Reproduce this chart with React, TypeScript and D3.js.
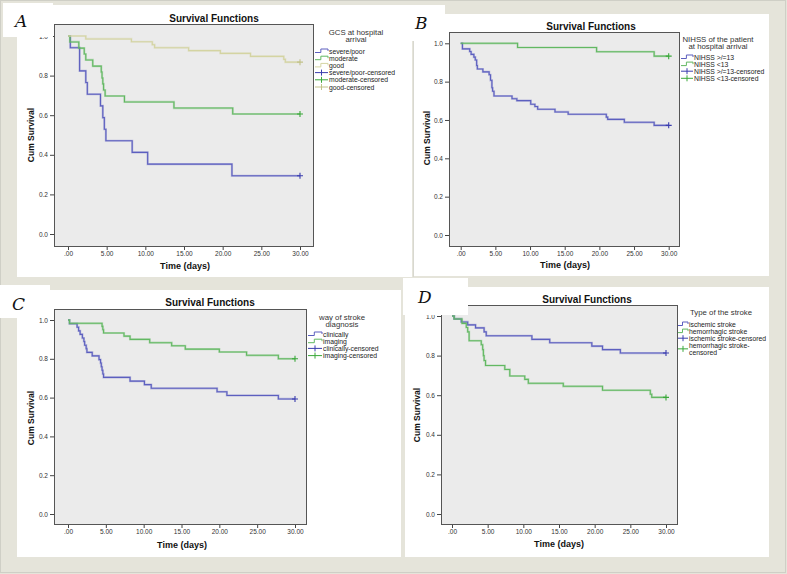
import React, { useRef, useEffect } from "react";
import * as d3 from "d3";

type Pt = [number, number];

const timeTicks = [0, 5, 10, 15, 20, 25, 30];
const survivalTicks = [0, 0.2, 0.4, 0.6, 0.8, 1.0];
const endTime = 30;

// A: GCS at hospital arrival
const gcsLabels = ["severe/poor", "moderate", "good"];
const gcsSevere: Pt[] = [[0, 1], [0.3, 0.941], [1.5, 0.824], [2.3, 0.765], [2.5, 0.706], [4.2, 0.647], [4.5, 0.588], [4.7, 0.529], [4.9, 0.471], [8.3, 0.412], [10.3, 0.353], [21.2, 0.294]];
const gcsModerate: Pt[] = [[0, 1], [0.25, 0.97], [1.4, 0.939], [2.1, 0.909], [2.3, 0.879], [3.2, 0.848], [4.3, 0.818], [4.4, 0.788], [4.5, 0.758], [4.6, 0.727], [4.8, 0.697], [7.3, 0.667], [13.7, 0.636], [21.3, 0.606]];
const gcsGood: Pt[] = [[0, 1], [2.3, 0.985], [8.2, 0.971], [10.9, 0.956], [11.2, 0.941], [15.6, 0.926], [19.7, 0.912], [23.6, 0.897], [27.9, 0.882], [28.1, 0.868]];

// B: NIHSS
const nihssLabels = ["NIHSS >/=13", "NIHSS <13"];
const nihssHigh: Pt[] = [[0, 1], [0.25, 0.971], [1.3, 0.957], [1.5, 0.942], [1.9, 0.928], [2.1, 0.913], [2.3, 0.884], [2.4, 0.866], [3.2, 0.851], [4.1, 0.836], [4.3, 0.807], [4.5, 0.768], [4.6, 0.75], [4.8, 0.725], [7.4, 0.711], [8.1, 0.701], [10.1, 0.682], [10.7, 0.67], [11.1, 0.656], [13.6, 0.642], [15.5, 0.63], [21.0, 0.615], [21.2, 0.603], [23.6, 0.588], [27.9, 0.572]];
const nihssLow: Pt[] = [[0, 1], [8.2, 0.978], [19.6, 0.956], [27.9, 0.933]];

// C: way of stroke diagnosis
const diagLabels = ["clinically", "imaging"];
const diagClinical: Pt[] = [[0, 1], [0.2, 0.981], [1.2, 0.963], [1.4, 0.944], [1.6, 0.926], [1.9, 0.907], [2.1, 0.889], [2.2, 0.87], [2.4, 0.852], [2.5, 0.833], [3.2, 0.815], [4.1, 0.796], [4.3, 0.778], [4.4, 0.759], [4.5, 0.741], [4.6, 0.722], [4.7, 0.704], [8.2, 0.685], [10.1, 0.667], [11.0, 0.648], [19.7, 0.63], [21.0, 0.611], [27.8, 0.593]];
const diagImaging: Pt[] = [[0, 1], [0.2, 0.983], [4.5, 0.967], [4.6, 0.95], [4.7, 0.933], [7.4, 0.917], [8.2, 0.9], [10.8, 0.883], [13.7, 0.867], [15.5, 0.85], [20.0, 0.835], [23.6, 0.818], [27.8, 0.8]];

// D: type of the stroke
const strokeLabels = ["ischemic stroke", "hemorrhagic stroke"];
const strokeIschemic: Pt[] = [[0, 1], [0.3, 0.985], [1.3, 0.97], [2.2, 0.955], [3.3, 0.94], [4.5, 0.92], [4.8, 0.9], [11.2, 0.882], [13.7, 0.865], [19.6, 0.848], [21.1, 0.83], [23.6, 0.813]];
const strokeHemorrhagic: Pt[] = [[0, 1], [0.3, 0.985], [1.4, 0.963], [2.0, 0.942], [2.2, 0.92], [2.4, 0.875], [4.1, 0.855], [4.3, 0.83], [4.4, 0.8], [4.5, 0.775], [4.7, 0.75], [7.4, 0.73], [8.1, 0.697], [10.2, 0.68], [10.7, 0.66], [15.6, 0.645], [21.1, 0.625], [27.8, 0.605], [28.0, 0.589]];

const blue = "#5c5fbf";
const blueMark = "#3a3dae";
const green = "#62b862";
const greenMark = "#3aa83a";
const khaki = "#d4d4a2";
const khakiMark = "#c2c28a";

const panels = [
  {
    letter: "A", letterAt: [15, 27], tag: [3, 3, 50, 34],
    frame: { x0: 54, x1: 313, y0: 24, y1: 246 }, xr: [68, 300], yr: [234, 36],
    title: [214, 18], xlab: [185, 266], ylab: [31, 135],
    legend: { head: ["GCS at hospital", "arrival"], hx: 356, hy: 32, x0: 315, x1: 328, y0: 51, dy: 7.2 },
    labels: gcsLabels, data: [gcsSevere, gcsModerate, gcsGood],
    colors: [blue, green, khaki], marks: [blueMark, greenMark, khakiMark],
  },
  {
    letter: "B", letterAt: [415, 29], tag: [400, 5, 45, 36],
    frame: { x0: 449, x1: 679, y0: 32, y1: 246 }, xr: [460.7, 668.7], yr: [235, 43.3],
    title: [591, 26], xlab: [565, 265], ylab: [427, 138],
    legend: { head: ["NIHSS of the patient", "at hospital arrival"], hx: 718, hy: 39, x0: 681, x1: 693, y0: 57, dy: 7.1 },
    labels: nihssLabels, data: [nihssHigh, nihssLow],
    colors: [blue, green], marks: [blueMark, greenMark],
  },
  {
    letter: "C", letterAt: [12, 310], tag: [0, 285, 50, 33],
    frame: { x0: 54, x1: 306, y0: 309, y1: 524 }, xr: [68, 295], yr: [514, 320],
    title: [210, 302], xlab: [182, 545], ylab: [31, 418],
    legend: { head: ["way of stroke", "diagnosis"], hx: 342, hy: 317, x0: 308, x1: 322, y0: 334, dy: 7.2 },
    labels: diagLabels, data: [diagClinical, diagImaging],
    colors: [blue, green], marks: [blueMark, greenMark],
  },
  {
    letter: "D", letterAt: [418, 303], tag: [403, 278, 65, 37],
    frame: { x0: 441, x1: 677, y0: 305, y1: 524 }, xr: [452, 666], yr: [514, 316],
    title: [587, 299], xlab: [559, 544], ylab: [417, 415],
    legend: { head: ["Type of the stroke"], hx: 721, hy: 312, x0: 678, x1: 688, y0: 324, dy: 7.1 },
    labels: strokeLabels, data: [strokeIschemic, strokeHemorrhagic],
    colors: [blue, green], marks: [blueMark, greenMark],
  },
];

const font = "'Liberation Sans', Arial, sans-serif";

export default function App() {
  const ref = useRef<SVGSVGElement>(null);

  useEffect(() => {
    const svg = d3.select(ref.current);
    svg.selectAll("*").remove();

    // page background and white panels
    svg.append("rect").attr("width", 787).attr("height", 574).attr("fill", "#e5e4da");
    svg.append("rect").attr("x", 0.5).attr("y", 0.5).attr("width", 785).attr("height", 572)
      .attr("fill", "none").attr("stroke", "#cfcfc6");
    const sheets = [[17, 5, 395, 272], [414, 14, 355, 262], [17, 290, 384, 267], [405, 287, 364, 270]];
    sheets.forEach(([x, y, w, h]) => {
      svg.append("rect").attr("x", x).attr("y", y).attr("width", w).attr("height", h).attr("fill", "#fff");
    });
    svg.append("line").attr("x1", 413.5).attr("x2", 413.5).attr("y1", 14).attr("y2", 277).attr("stroke", "#d8d8d0");

    panels.forEach(p => {
      const g = svg.append("g");
      const f = p.frame;
      const x = d3.scaleLinear().domain([0, endTime]).range(p.xr);
      const y = d3.scaleLinear().domain([0, 1]).range(p.yr);

      g.append("rect").attr("x", f.x0).attr("y", f.y0).attr("width", f.x1 - f.x0).attr("height", f.y1 - f.y0)
        .attr("fill", "#ebebeb");

      // Y axis
      const ya = g.append("g").attr("transform", `translate(${f.x0},0)`)
        .call(d3.axisLeft(y).tickValues(survivalTicks).tickSize(4).tickPadding(2).tickFormat(d => (+d).toFixed(1)));
      ya.select(".domain").remove();
      ya.selectAll("line").attr("stroke", "#444");
      ya.selectAll("text").attr("fill", "#333").style("font-size", "6.5px").style("font-family", font);

      // X axis
      const xa = g.append("g").attr("transform", `translate(0,${f.y1})`)
        .call(d3.axisBottom(x).tickValues(timeTicks).tickSize(4).tickPadding(1).tickFormat(d => (+d === 0 ? ".00" : (+d).toFixed(2))));
      xa.select(".domain").remove();
      xa.selectAll("line").attr("stroke", "#444");
      xa.selectAll("text").attr("fill", "#333").style("font-size", "6.5px").style("font-family", font);

      // curves
      const line = d3.line<Pt>().x(d => x(d[0])).y(d => y(d[1])).curve(d3.curveStepAfter);
      p.data.forEach((pts, i) => {
        const last = pts[pts.length - 1][1];
        const full: Pt[] = [...pts, [endTime, last]];
        g.append("path").attr("d", line(full)).attr("fill", "none")
          .attr("stroke", p.colors[i]).attr("stroke-opacity", 0.35).attr("stroke-width", 2.2);
        g.append("path").attr("d", line(full)).attr("fill", "none")
          .attr("stroke", p.colors[i]).attr("stroke-width", 1.1);
        g.append("path").attr("transform", `translate(${x(endTime)},${y(last)})`)
          .attr("d", "M-3,0H3M0,-3V3").attr("stroke", p.marks[i]).attr("stroke-width", 1.1);
      });

      g.append("rect").attr("x", f.x0 + 0.5).attr("y", f.y0 + 0.5).attr("width", f.x1 - f.x0).attr("height", f.y1 - f.y0)
        .attr("fill", "none").attr("stroke", "#555").attr("stroke-width", 1);

      // titles
      g.append("text").attr("x", p.title[0]).attr("y", p.title[1]).attr("text-anchor", "middle")
        .attr("dominant-baseline", "central").style("font", `bold 10px ${font}`).attr("fill", "#111")
        .text("Survival Functions");
      g.append("text").attr("x", p.xlab[0]).attr("y", p.xlab[1]).attr("text-anchor", "middle")
        .attr("dominant-baseline", "central").style("font", `bold 9px ${font}`).attr("fill", "#111")
        .text("Time (days)");
      g.append("text").attr("transform", `translate(${p.ylab[0]},${p.ylab[1]}) rotate(-90)`).attr("text-anchor", "middle")
        .attr("dominant-baseline", "central").style("font", `bold 8.5px ${font}`).attr("fill", "#111")
        .text("Cum Survival");

      // legend
      const lg = p.legend;
      lg.head.forEach((t, k) => {
        g.append("text").attr("x", lg.hx).attr("y", lg.hy + k * 7.5).attr("text-anchor", "middle")
          .attr("dominant-baseline", "central").style("font", `7.8px ${font}`).attr("fill", "#333").text(t);
      });
      const n = p.labels.length;
      const items = [
        ...p.labels.map((l, i) => ({ text: [l], color: p.colors[i], censored: false })),
        ...p.labels.map((l, i) => ({
          text: p.letter === "D" && i === 1 ? [l + "-", "censored"] : [l + "-censored"],
          color: p.marks[i], censored: true,
        })),
      ];
      items.forEach((it, k) => {
        const yy = lg.y0 + k * lg.dy;
        const cy = yy + (it.text.length - 1) * lg.dy / 2;
        const w = lg.x1 - lg.x0;
        if (it.censored) {
          g.append("path").attr("d", `M${lg.x0},${cy}H${lg.x1}M${lg.x0 + w / 2},${cy - 3}V${cy + 3}`)
            .attr("fill", "none").attr("stroke", it.color).attr("stroke-width", 1);
        } else {
          g.append("path").attr("d", `M${lg.x0},${yy + 1.5}H${lg.x0 + w * 0.45}V${yy - 2}H${lg.x1}V${yy}`)
            .attr("fill", "none").attr("stroke", it.color).attr("stroke-width", 1);
        }
        it.text.forEach((t, j) => {
          g.append("text").attr("x", lg.x1 + 1).attr("y", yy + j * lg.dy).attr("dominant-baseline", "central")
            .style("font", `6.8px ${font}`).attr("fill", "#222").text(t);
        });
      });
      void n;
    });

    // panel letter tags drawn on top
    panels.forEach(p => {
      svg.append("rect").attr("x", p.tag[0]).attr("y", p.tag[1]).attr("width", p.tag[2]).attr("height", p.tag[3])
        .attr("fill", "#fff");
      svg.append("text").attr("x", p.letterAt[0]).attr("y", p.letterAt[1])
        .style("font", `italic 17px 'DejaVu Serif', serif`).attr("fill", "#111").text(p.letter);
    });
  }, []);

  return (
    <div style={{ position: "absolute", left: 0, top: 0, width: 787, height: 574 }}>
      <svg ref={ref} width={787} height={574}></svg>
    </div>
  );
}
